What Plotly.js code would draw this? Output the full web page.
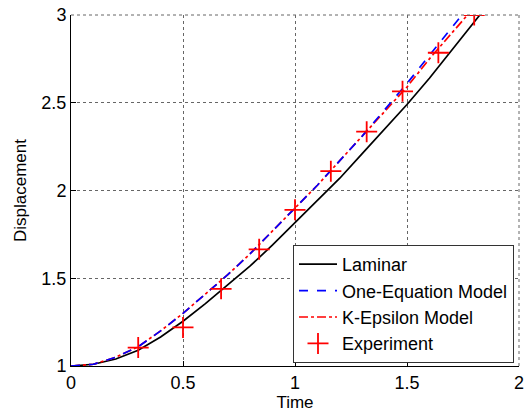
<!DOCTYPE html>
<html><head><meta charset="utf-8">
<script src="https://cdn.plot.ly/plotly-3.0.1.min.js"></script>
<style>html,body{margin:0;padding:0;background:#fff}#c{width:526px;height:412px}</style>
</head><body><div id="c"></div>
<script>
const tLam = [0,0.1,0.2,0.3,0.4,0.5,0.6,0.7,0.8,0.9,1.0,1.1,1.2,1.3,1.4,1.5,1.6,1.7,1.8,1.825];
const yLam = [1.0,1.01,1.04,1.09,1.165,1.255,1.355,1.46,1.57,1.69,1.815,1.94,2.07,2.21,2.35,2.49,2.64,2.80,2.96,3.0];
const tOne = [0,0.1,0.2,0.3,0.4,0.5,0.6,0.7,0.8,0.9,1.0,1.1,1.2,1.3,1.4,1.5,1.6,1.7,1.745];
const yOne = [1.0,1.01,1.05,1.11,1.20,1.30,1.41,1.52,1.64,1.77,1.90,2.03,2.17,2.31,2.46,2.61,2.77,2.93,3.0];
const tKE = [0,0.1,0.2,0.3,0.4,0.5,0.6,0.7,0.8,0.9,1.0,1.1,1.2,1.3,1.4,1.5,1.6,1.7,1.77];
const yKE = [1.0,1.01,1.05,1.11,1.20,1.30,1.41,1.52,1.64,1.77,1.90,2.03,2.17,2.31,2.45,2.59,2.75,2.90,3.0];
const tExp = [0.3,0.5,0.67,0.84,1.0,1.16,1.32,1.48,1.64,1.8];
const yExp = [1.105,1.22,1.44,1.665,1.89,2.11,2.335,2.565,2.785,3.0];
const tickX = [0,0.5,1,1.5,2];
const tickY = [1,1.5,2,2.5,3];

const FF = 'Liberation Sans, Arial, sans-serif';
const traces = [
  {x:tLam,y:yLam,mode:'lines',name:'Laminar',legendrank:1,legendgroup:'a',line:{color:'#000',width:1.7}},
  {x:tKE,y:yKE,mode:'lines',name:'K-Epsilon Model',legendrank:3,legendgroup:'c',line:{color:'#ff0000',width:1.7,dash:'dashdot'}},
  {x:tOne,y:yOne,mode:'lines',name:'One-Equation Model',legendrank:2,legendgroup:'b',line:{color:'#0000ff',width:1.7,dash:'dash'}},
  {x:tExp,y:yExp,mode:'markers',name:'Experiment',legendrank:4,legendgroup:'d',marker:{symbol:'cross-thin-open',size:15,color:'#ff0000',line:{color:'#ff0000',width:1.8}}}
];
const layout = {
  width:526,height:412,
  margin:{l:71,r:7,t:15,b:46},
  paper_bgcolor:'#fff',plot_bgcolor:'#fff',
  showlegend:true,
  font:{family:FF,size:17,color:'#000'},
  xaxis:{range:[0,2],tickvals:tickX,ticktext:tickX.map(String),showgrid:true,gridcolor:'#666',griddash:'dot',gridwidth:1,
    zeroline:false,showline:true,linecolor:'#000',linewidth:1,ticks:'inside',ticklen:5,tickcolor:'#000',
    title:{text:'Time',font:{family:FF,size:17},standoff:0},tickfont:{family:FF,size:18}},
  yaxis:{range:[1,3],tickvals:tickY,ticktext:tickY.map(String),showgrid:true,gridcolor:'#666',griddash:'dot',gridwidth:1,
    zeroline:false,showline:true,linecolor:'#000',linewidth:1,ticks:'inside',ticklen:5,tickcolor:'#000',
    title:{text:'Displacement',font:{family:FF,size:17},standoff:10},tickfont:{family:FF,size:18}},
  legend:{x:1-5/448,y:3/351,xanchor:'right',yanchor:'bottom',bgcolor:'#fff',bordercolor:'#333',borderwidth:1,
    font:{family:FF,size:18},itemwidth:38,tracegroupgap:2,traceorder:'normal'},
  shapes:[
    {type:'line',xref:'paper',yref:'paper',x0:1,x1:1,y0:0,y1:1,line:{color:'#666',width:1,dash:'dot'}},
    {type:'line',xref:'paper',yref:'paper',x0:0,x1:1,y0:1,y1:1,line:{color:'#666',width:1,dash:'dot'}}
  ]
};
Plotly.newPlot('c',traces,layout,{displayModeBar:false,staticPlot:true});
</script></body></html>
